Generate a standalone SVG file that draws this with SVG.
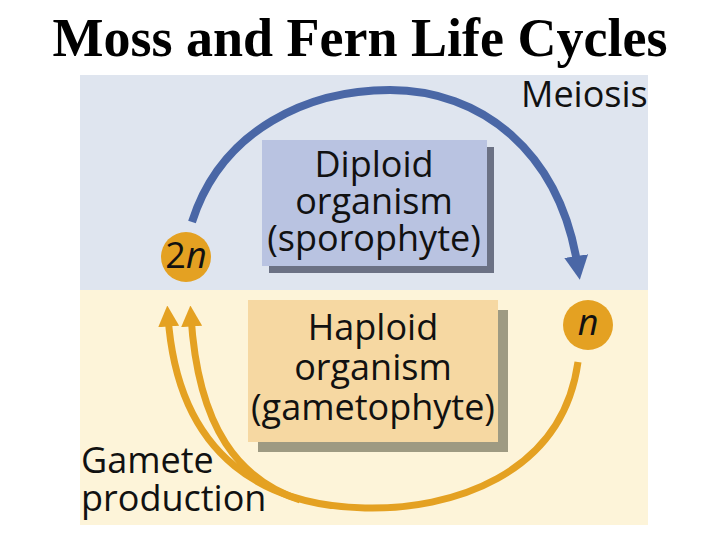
<svg xmlns="http://www.w3.org/2000/svg" width="720" height="540" viewBox="0 0 720 540">
<defs>
<style>
.lbl{font-family:"Open Sans","Noto Sans",sans-serif;font-size:36px;fill:#111}
.box{font-family:"Open Sans","Noto Sans",sans-serif;font-size:36px;fill:#111;text-anchor:middle}
.title{font-family:"Liberation Serif","Times New Roman",serif;font-weight:bold;font-size:54px;fill:#000;text-anchor:middle}
.ploid{fill:#e4a122}
</style>
<marker id="ab" viewBox="0 0 10 10" refX="5" refY="5" markerWidth="3" markerHeight="3" orient="auto" markerUnits="strokeWidth">
<path d="M0,0 L10,5 L0,10 z" fill="#4a67a6"/>
</marker>
<marker id="ao" viewBox="0 0 10 10" refX="5" refY="5" markerWidth="3" markerHeight="3" orient="auto" markerUnits="strokeWidth">
<path d="M0,0 L10,5 L0,10 z" fill="#e4a122"/>
</marker>
</defs>
<rect width="720" height="540" fill="#ffffff"/>
<text class="title" x="360" y="56">Moss and Fern Life Cycles</text>
<g id="background">
<rect x="80" y="75" width="568" height="215" fill="#dfe5ef"/>
<rect x="80" y="290" width="568" height="235" fill="#fdf4d9"/>
</g>
<g id="connectors" fill="none">
<path d="M192,222 C222,128 310,90 390,90 C480,90 560,150 578,268" stroke="#4a67a6" stroke-width="8" marker-end="url(#ab)"/>
<path d="M578,362 C562,476 450,510 365,508 C270,506 178,462 168,316" stroke="#e4a122" stroke-width="7" marker-end="url(#ao)"/>
<path d="M300,500 C240,480 198,430 191,316" stroke="#e4a122" stroke-width="7" marker-end="url(#ao)"/>
</g>
<g id="diploid">
<rect x="269" y="147" width="225" height="126" fill="#6b7184"/>
<rect x="262" y="140" width="225" height="126" fill="#b9c3e1"/>
<text class="box" x="374" y="177">Diploid</text>
<text class="box" x="374" y="214">organism</text>
<text class="box" x="374" y="251">(sporophyte)</text>
</g>
<g id="haploid">
<rect x="258" y="310" width="250" height="142" fill="#9e9a82"/>
<rect x="248" y="300" width="250" height="142" fill="#f6d8a2"/>
<text class="box" x="373" y="340">Haploid</text>
<text class="box" x="373" y="380">organism</text>
<text class="box" x="373" y="420">(gametophyte)</text>
</g>
<g id="node-2n">
<circle class="ploid" cx="186" cy="257" r="25"/>
<text class="lbl" x="186" y="268" text-anchor="middle" font-size="30">2<tspan font-style="italic">n</tspan></text>
</g>
<g id="node-n">
<circle class="ploid" cx="588" cy="325" r="25"/>
<text class="lbl" x="588" y="335" text-anchor="middle" font-size="30" font-style="italic">n</text>
</g>
<g id="meiosis">
<text class="lbl" x="521" y="107">Meiosis</text>
</g>
<g id="gamete">
<text class="lbl" x="81" y="473">Gamete</text>
<text class="lbl" x="81" y="511">production</text>
</g>
</svg>
